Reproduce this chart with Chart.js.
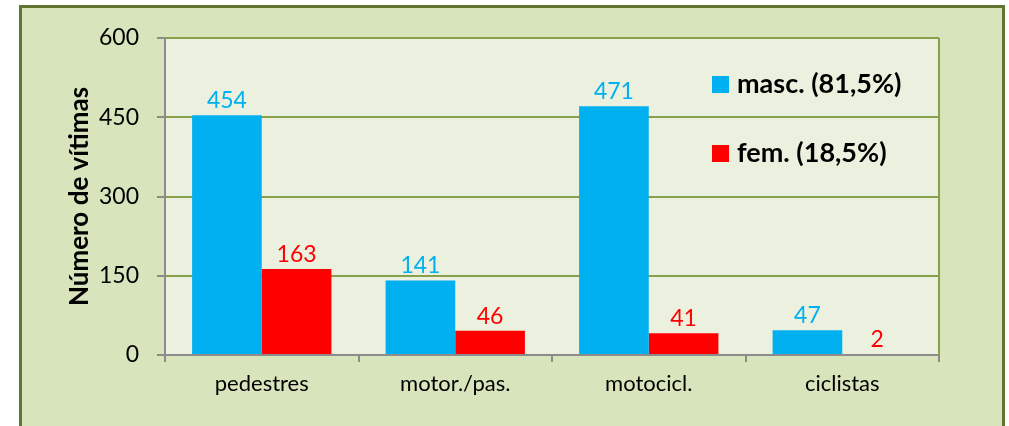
<!DOCTYPE html>
<html>
<head>
<meta charset="utf-8">
<script src="https://cdn.jsdelivr.net/npm/chart.js@4/dist/chart.umd.min.js"></script>
<style>
  html, body { margin: 0; padding: 0; background: #fff; }
  #frame {
    position: absolute; left: 19px; top: 5px; width: 980px; height: 440px;
    background: #d8e4bc; border: 3px solid #5f7530;
  }
  #wrap { position: absolute; left: 0; top: 0; width: 1009px; height: 426px; }
</style>
</head>
<body>
<div id="frame"></div>
<div id="wrap"><canvas id="chart" width="1009" height="426"></canvas></div>
<script>
const categories = ['pedestres', 'motor./pas.', 'motocicl.', 'ciclistas'];
const masc = [454, 141, 471, 47];
const fem = [163, 46, 41, 2];
const seriesLabels = ['masc. (81,5%)', 'fem. (18,5%)'];
const yTicks = [0, 150, 300, 450, 600];

const FONT = 'Lato, "Open Sans", sans-serif';
const BLUE = '#00b0f0';
const RED = '#ff0000';
const OLIVE = '#87a14a';
const GRAY = '#8c8c8c';

// plot background + right border
const plotBg = {
	id: 'plotBg',
	beforeDraw(chart) {
		const {ctx, chartArea: a} = chart;
		ctx.save();
		ctx.fillStyle = '#ebf1de';
		ctx.fillRect(a.left, a.top, a.right - a.left, a.bottom - a.top);
		ctx.restore();
	},
	afterDraw(chart) {
		const {ctx, chartArea: a} = chart;
		ctx.save();
		ctx.strokeStyle = OLIVE;
		ctx.lineWidth = 2;
		ctx.beginPath();
		ctx.moveTo(a.right, a.top);
		ctx.lineTo(a.right, a.bottom);
		ctx.stroke();
		ctx.restore();
	}
};

// value labels above bars
const valueLabels = {
	id: 'valueLabels',
	afterDatasetsDraw(chart) {
		const ctx = chart.ctx;
		ctx.save();
		ctx.font = '23px ' + FONT;
		ctx.textAlign = 'center';
		ctx.textBaseline = 'bottom';
		chart.data.datasets.forEach((ds, i) => {
			const meta = chart.getDatasetMeta(i);
			ctx.fillStyle = ds.backgroundColor;
			meta.data.forEach((bar, j) => {
				ctx.fillText(ds.data[j], bar.x, bar.y - 3);
			});
		});
		ctx.restore();
	}
};

// legend inside the plot, top right
const insideLegend = {
	id: 'insideLegend',
	afterDraw(chart) {
		const ctx = chart.ctx;
		const rows = [84, 153];
		ctx.save();
		ctx.font = 'bold 27px ' + FONT;
		ctx.textBaseline = 'middle';
		chart.data.datasets.forEach((ds, i) => {
			ctx.fillStyle = ds.backgroundColor;
			ctx.fillRect(712, rows[i] - 8, 17, 17);
			ctx.fillStyle = '#000';
			ctx.fillText(ds.label, 737, rows[i]);
		});
		ctx.restore();
	}
};

new Chart(document.getElementById('chart'), {
	type: 'bar',
	data: {
		labels: categories,
		datasets: [
			{label: seriesLabels[0], data: masc, backgroundColor: BLUE},
			{label: seriesLabels[1], data: fem, backgroundColor: RED},
		]
	},
	options: {
		responsive: false,
		animation: false,
		layout: {padding: {left: 60, top: 38, right: 70, bottom: 10}},
		datasets: {bar: {categoryPercentage: 0.72, barPercentage: 1}},
		plugins: {legend: {display: false}, tooltip: {enabled: false}},
		scales: {
			x: {
				grid: {drawOnChartArea: false, tickLength: 7, tickColor: GRAY, lineWidth: 2},
				border: {color: GRAY, width: 2},
				ticks: {color: '#000', font: {family: FONT, size: 22}, padding: 9, maxRotation: 0},
				afterFit(axis) { axis.height = 61; },
			},
			y: {
				min: 0, max: 600,
				afterBuildTicks(axis) { axis.ticks = yTicks.map(v => ({value: v})); },
				grid: {color: OLIVE, lineWidth: 2, tickLength: 8, tickColor: GRAY},
				border: {color: GRAY, width: 2},
				ticks: {color: '#000', font: {family: FONT, size: 23}, padding: 18},
				title: {display: true, text: 'Número de vítimas', color: '#000',
					font: {family: FONT, size: 26, weight: 'bold'}, padding: 4},
				afterFit(axis) { axis.width = 105; },
			}
		}
	},
	plugins: [plotBg, valueLabels, insideLegend]
});
</script>
</body>
</html>
